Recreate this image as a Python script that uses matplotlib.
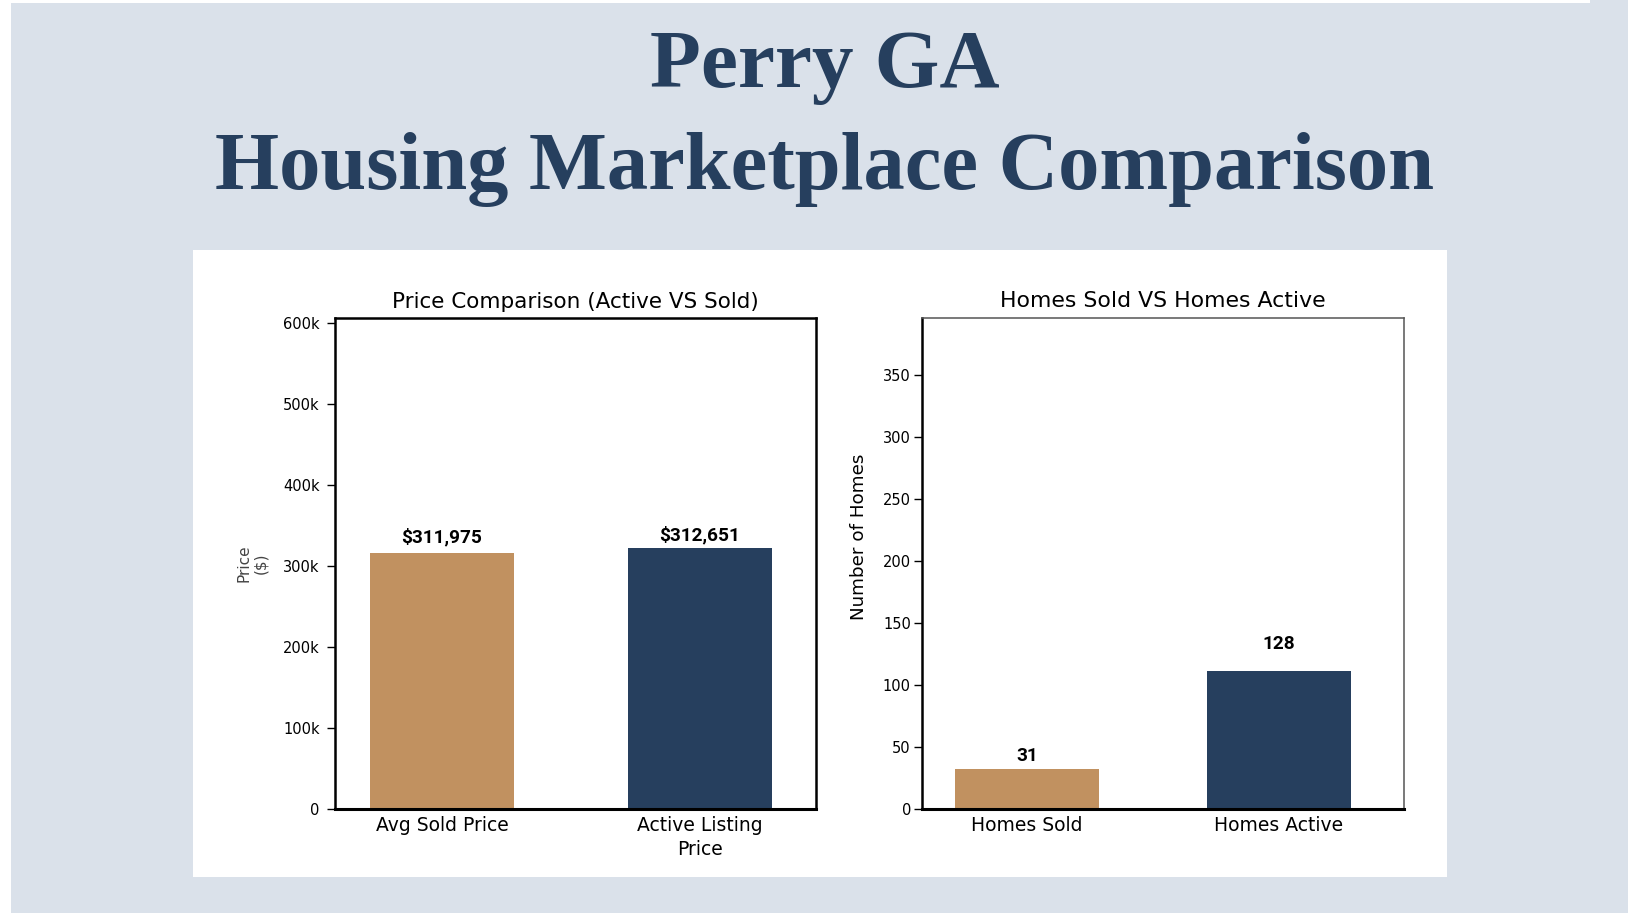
import matplotlib
matplotlib.use("Agg")
import matplotlib.pyplot as plt
from matplotlib.patches import Rectangle

# canvas size in pixels
W, H = 1640, 924

# ---- data ----
price_categories = ["Avg Sold Price", "Active Listing\nPrice"]
price_bar_values = [316000, 322000]          # bar heights as drawn
price_labels = ["$311,975", "$312,651"]      # printed values
price_ticks = [0, 100000, 200000, 300000, 400000, 500000, 600000]
price_tick_labels = ["0", "100k", "200k", "300k", "400k", "500k", "600k"]

homes_categories = ["Homes Sold", "Homes Active"]
homes_bar_values = [32, 111]                 # bar heights as drawn
homes_labels = ["31", "128"]                 # printed values
homes_ticks = [0, 50, 100, 150, 200, 250, 300, 350]

TAN = "#c19160"
NAVY = "#263f5e"
BG = "#dae1ea"

plt.rcParams["font.family"] = ["DejaVu Sans"]

fig = plt.figure(figsize=(W / 100, H / 100), dpi=100, facecolor="white")


def px_rect(x0, y0, x1, y1, color):
    # rectangle given in pixel coords measured from the top-left
    fig.add_artist(Rectangle((x0 / W, 1 - y1 / H), (x1 - x0) / W, (y1 - y0) / H,
                             transform=fig.transFigure, facecolor=color,
                             edgecolor="none", zorder=-10))


px_rect(11, 3, 1628, 913, BG)
px_rect(1590, 0, 1628, 3, BG)
px_rect(193, 250, 1447, 877, "white")

# ---- big heading ----
fig.text(825 / W, 1 - 87 / H, "Perry GA", ha="center", va="baseline",
         fontsize=60, fontweight="bold", family="Liberation Serif", color=NAVY)
fig.text(825 / W, 1 - 189 / H, "Housing Marketplace Comparison", ha="center",
         va="baseline", fontsize=59.4, fontweight="bold", family="Liberation Serif",
         color=NAVY)

# ---- left chart: prices ----
ax1 = fig.add_axes([335 / W, 1 - 809 / H, 481 / W, 491 / H])
ax1.bar(range(len(price_categories)), price_bar_values, width=0.558,
        color=[TAN, NAVY])
ax1.set_xlim(-0.415, 1.45)
ax1.set_ylim(0, 606000)
ax1.set_xticks(range(len(price_categories)))
ax1.set_xticklabels(price_categories)
ax1.set_yticks(price_ticks)
ax1.set_yticklabels(price_tick_labels)
for lab in ax1.get_xticklabels():
    lab.set_linespacing(1.35)
ax1.tick_params(axis="y", length=6, width=1, pad=5, labelsize=10.5)
ax1.tick_params(axis="x", length=0, pad=5, labelsize=13.5)
ax1.set_title("Price Comparison (Active VS Sold)", fontsize=15.5, pad=7.5)
ax1.set_ylabel("Price\n($)", fontsize=11, color="#444444")
ax1.yaxis.set_label_coords(-0.138, 0.5)
for s in ax1.spines.values():
    s.set_linewidth(1.8)
    s.set_color("black")
ax1.spines["bottom"].set_linewidth(2.2)

for i, (v, lab, off) in enumerate(zip(price_bar_values, price_labels, [11.5, 9.5])):
    ax1.annotate(lab, (i, v), xytext=(0, off), textcoords="offset points",
                 ha="center", va="center", fontsize=13.7, fontweight="bold",
                 family="Roboto")

# ---- right chart: counts ----
ax2 = fig.add_axes([922 / W, 1 - 809 / H, 482 / W, 491 / H])
ax2.bar(range(len(homes_categories)), homes_bar_values, width=0.571,
        color=[TAN, NAVY])
ax2.set_xlim(-0.417, 1.496)
ax2.set_ylim(0, 396)
ax2.set_xticks(range(len(homes_categories)))
ax2.set_xticklabels(homes_categories)
ax2.set_yticks(homes_ticks)
ax2.tick_params(axis="y", length=6, width=1, pad=2, labelsize=10.5)
ax2.tick_params(axis="x", length=0, pad=5, labelsize=13.5)
ax2.set_title("Homes Sold VS Homes Active", fontsize=15.8, pad=8)
ax2.set_ylabel("Number of Homes", fontsize=13.2)
ax2.yaxis.set_label_coords(-0.113, 0.554)
ax2.spines["left"].set_linewidth(1.8)
ax2.spines["bottom"].set_linewidth(2.2)
for side in ["top", "right"]:
    ax2.spines[side].set_linewidth(1.1)
    ax2.spines[side].set_color("#555555")

for i, (v, lab, off) in enumerate(zip(homes_bar_values, homes_labels, [9.5, 19.5])):
    ax2.annotate(lab, (i, v), xytext=(0, off), textcoords="offset points",
                 ha="center", va="center", fontsize=13.7, fontweight="bold",
                 family="Roboto")

fig.savefig("out.png", dpi=100, facecolor="white")
